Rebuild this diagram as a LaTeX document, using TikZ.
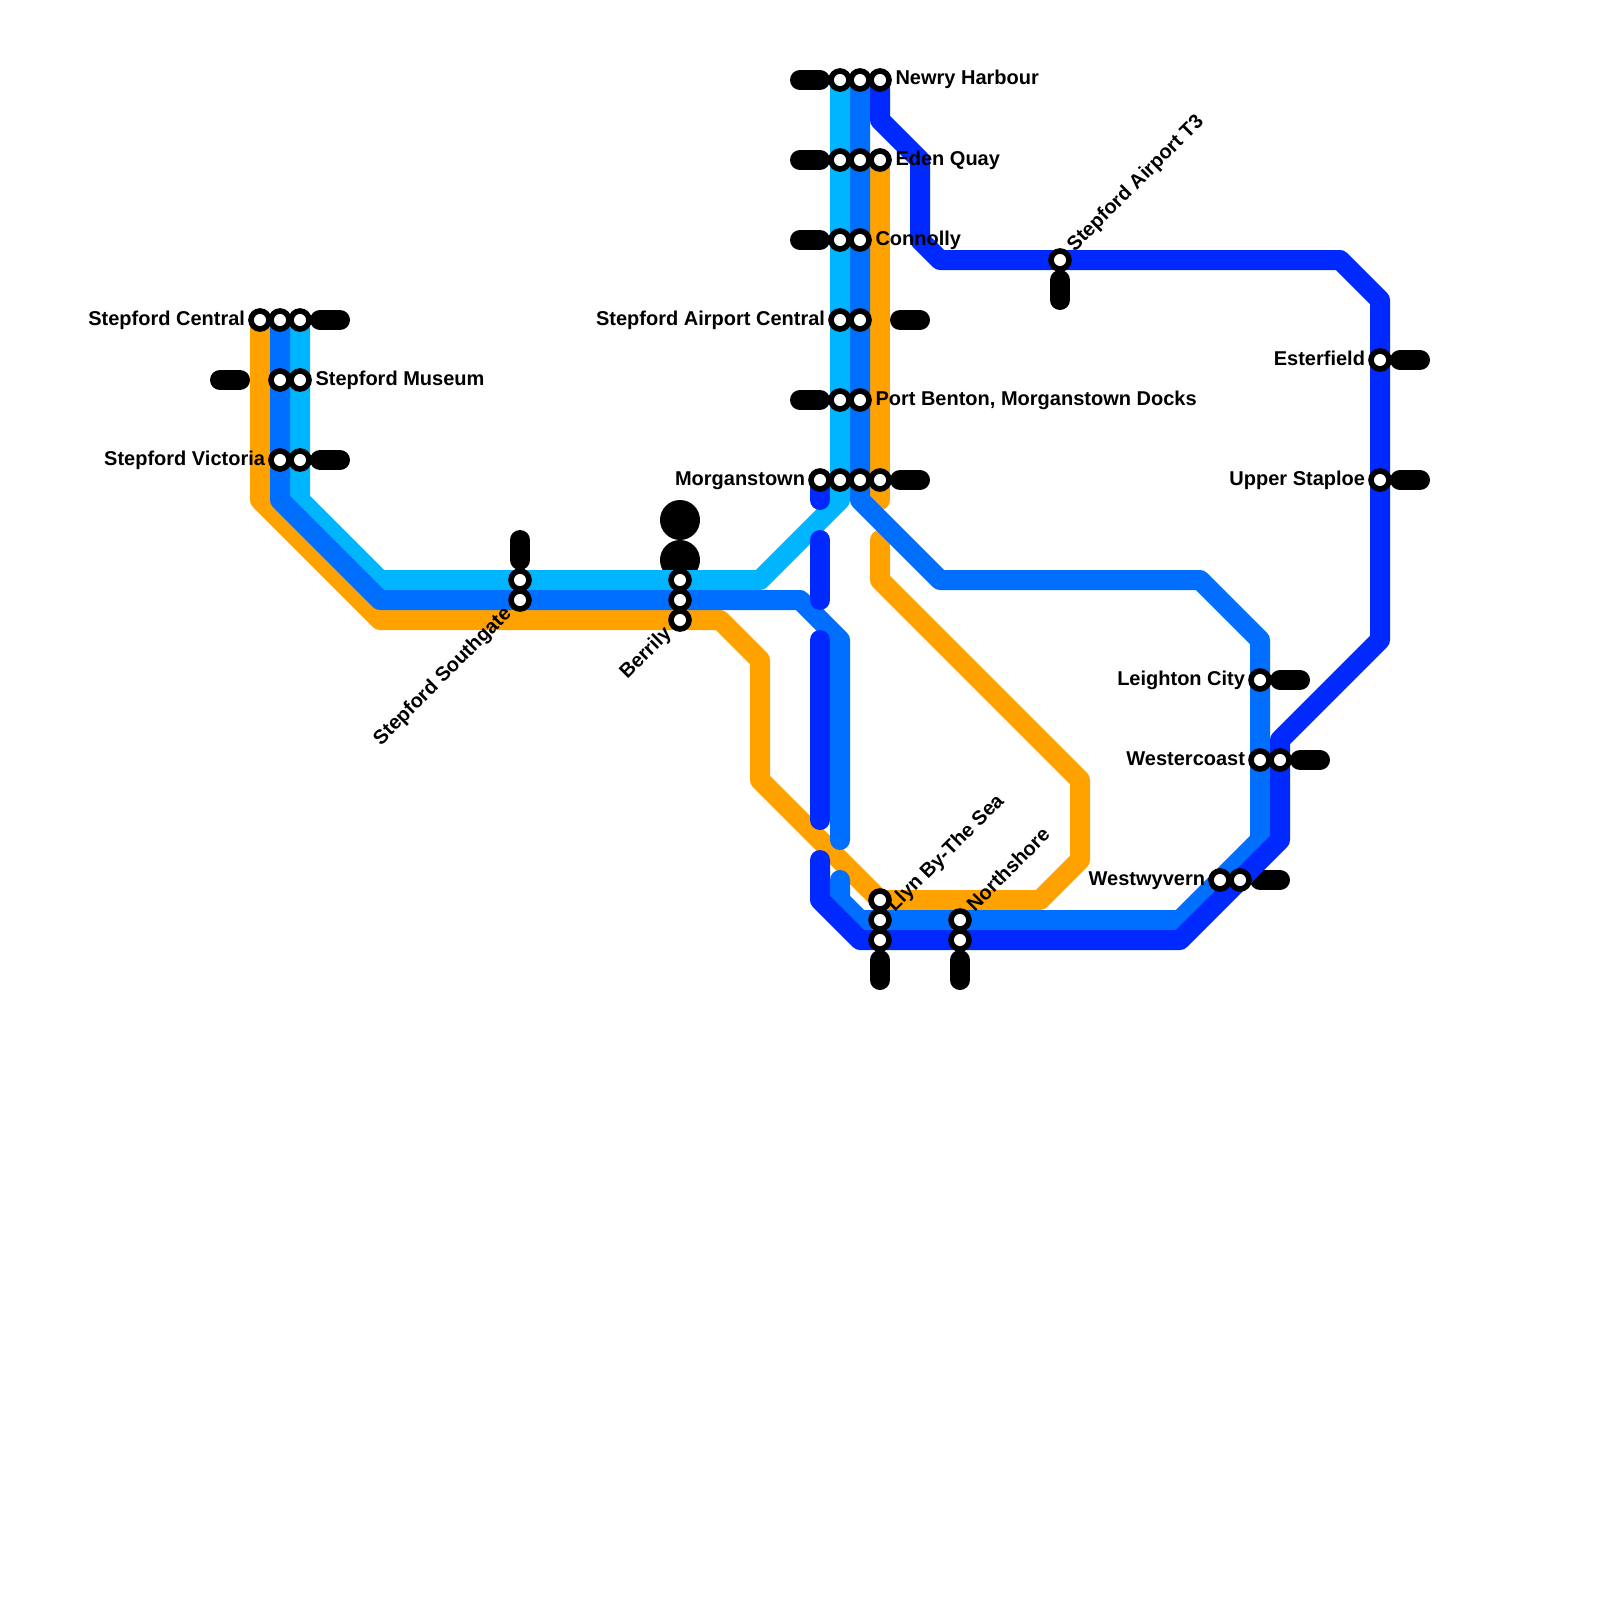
\documentclass[tikz,border=0pt]{standalone}
\usepackage{fontspec}
\setmainfont{Liberation Sans}
\pgfdeclarelayer{under}
\pgfsetlayers{under,main}
\definecolor{lineorange}{HTML}{FFA200}
\definecolor{linecyan}{HTML}{00B5FF}
\definecolor{lineblue}{HTML}{006FFF}
\definecolor{linedark}{HTML}{0029FF}
\tikzset{
  track/.style={line width=20pt,line cap=round,line join=round},
  stub/.style={track,draw=black},
  halt/.style={circle,draw=black,fill=white,line width=5.6pt,minimum size=18pt,inner sep=0pt,outer sep=0pt},
  stationlabel/.style={font=\fontsize{20}{24}\selectfont\bfseries,text=black,inner sep=0pt,outer sep=0pt},
  east label/.style={stationlabel,anchor=base west},
  west label/.style={stationlabel,anchor=base east},
  up label/.style={stationlabel,anchor=base west,rotate=45},
  down label/.style={stationlabel,anchor=base east,rotate=45}
}
\begin{document}
\begin{tikzpicture}[x=1pt,y=-1pt]
\useasboundingbox (0,0) rectangle (1600,1600);

% stations
\foreach \n/\x/\y in {
  nh1/840/80,nh2/860/80,nh3/880/80,
  eq1/840/160,eq2/860/160,eq3/880/160,
  co1/840/240,co2/860/240,
  ac1/840/320,ac2/860/320,
  pb1/840/400,pb2/860/400,
  mo0/820/480,mo1/840/480,mo2/860/480,mo3/880/480,
  sc1/260/320,sc2/280/320,sc3/300/320,
  sm1/280/380,sm2/300/380,
  sv1/280/460,sv2/300/460,
  ss1/520/580,ss2/520/600,
  be1/680/580,be2/680/600,be3/680/620,
  ll1/880/900,ll2/880/920,ll3/880/940,
  ns1/960/920,ns2/960/940,
  t3/1060/260,
  es/1380/360,us/1380/480,
  lc/1260/680,
  wc1/1260/760,wc2/1280/760,
  wy1/1220/880,wy2/1240/880}
  {\node[halt] (\n) at (\x,\y) {};}

% way-points
\foreach \n/\x/\y in {
  oa/260/500,ob/380/620,oc/720/620,od/760/660,oe/760/780,of/880/900,og/1040/900,oh/1080/860,oi/1080/780,oj/880/580,ok/880/540,ol/880/500,
  ca/300/500,cb/380/580,cc/760/580,cd/840/500,
  ba/280/500,bb/380/600,bc/800/600,bd/840/640,be/840/840,bf/840/880,bg/840/900,bh/860/920,bi/1180/920,bj/1260/840,bk/1260/640,bl/1200/580,bm/940/580,bn/860/500,
  da/880/120,db/920/160,dc/920/240,dd/940/260,de/1340/260,df/1380/300,dg/1380/640,dh/1280/740,di/1280/840,dj/1180/940,dk/860/940,dl/820/900,dm/820/860,dn/820/820,dp/820/640,dq/820/600,dr/820/540,ds/820/500,
  k1a/800/80,k1b/820/80,k2a/800/160,k2b/820/160,k3a/800/240,k3b/820/240,k4a/800/400,k4b/820/400,
  k5a/900/320,k5b/920/320,k6a/900/480,k6b/920/480,
  k7a/320/320,k7b/340/320,k8a/220/380,k8b/240/380,k9a/320/460,k9b/340/460,
  kAa/520/540,kAb/520/560,
  kBa/880/960,kBb/880/980,kCa/960/960,kCb/960/980,
  kDa/1060/280,kDb/1060/300,
  kEa/1400/360,kEb/1420/360,kFa/1400/480,kFb/1420/480,
  kGa/1280/680,kGb/1300/680,kHa/1300/760,kHb/1320/760,kIa/1260/880,kIb/1280/880,
  bc1/680/520,bc2/680/560}
  {\coordinate (\n) at (\x,\y);}

\begin{pgfonlayer}{under}
  \fill[white] (0,0) rectangle (1600,1600);
  % black marks
  \foreach \a/\b in {k1a/k1b,k2a/k2b,k3a/k3b,k4a/k4b,k5a/k5b,k6a/k6b,k7a/k7b,k8a/k8b,k9a/k9b,kAa/kAb,kBa/kBb,kCa/kCb,kDa/kDb,kEa/kEb,kFa/kFb,kGa/kGb,kHa/kHb,kIa/kIb}
    {\draw[stub] (\a) -- (\b);}
  \fill[black] (bc1) circle[radius=20pt];
  \fill[black] (bc2) circle[radius=20pt];
  % orange
  \draw[track,draw=lineorange] (sc1.center) -- (oa) -- (ob) -- (oc) -- (od) -- (oe) -- (of) -- (og) -- (oh) -- (oi) -- (oj) -- (ok);
  \draw[track,draw=lineorange] (eq3.center) -- (ol);
  % cyan
  \draw[track,draw=linecyan] (sc3.center) -- (ca) -- (cb) -- (cc) -- (cd) -- (nh1.center);
  % blue
  \draw[track,draw=lineblue] (sc2.center) -- (ba) -- (bb) -- (bc) -- (bd) -- (be);
  \draw[track,draw=lineblue] (bf) -- (bg) -- (bh) -- (bi) -- (bj) -- (bk) -- (bl) -- (bm) -- (bn) -- (nh2.center);
  % dark blue
  \draw[track,draw=linedark] (nh3.center) -- (da) -- (db) -- (dc) -- (dd) -- (de) -- (df) -- (dg) -- (dh) -- (di) -- (dj) -- (dk) -- (dl) -- (dm);
  \draw[track,draw=linedark] (dn) -- (dp);
  \draw[track,draw=linedark] (dq) -- (dr);
  \draw[track,draw=linedark] (ds) -- (mo0.center);
\end{pgfonlayer}

% labels
\node[east label] (lnh) at (895.5,85) {Newry Harbour};
\node[east label] (leq) at (895.5,165) {Eden Quay};
\node[east label] (lco) at (875.5,245) {Connolly};
\node[west label] (lac) at (825,325) {Stepford Airport Central};
\node[east label] (lpb) at (875.5,405) {Port Benton, Morganstown Docks};
\node[west label] (lmo) at (805,485) {Morganstown};
\node[west label] (lsc) at (245,325) {Stepford Central};
\node[east label] (lsm) at (315.5,385) {Stepford Museum};
\node[west label] (lsv) at (265,465) {Stepford Victoria};
\node[west label] (les) at (1365,365) {Esterfield};
\node[west label] (lus) at (1365,485) {Upper Staploe};
\node[west label] (llc) at (1245,685) {Leighton City};
\node[west label] (lwc) at (1245,765) {Westercoast};
\node[west label] (lwy) at (1205,885) {Westwyvern};
\node[up label] (lt3) at (1074.8,252.2) {Stepford Airport T3};
\node[up label] (lll) at (894.8,912.2) {Llyn By-The Sea};
\node[up label] (lns) at (974.8,912.2) {Northshore};
\node[down label] (lss) at (512.2,614.8) {Stepford Southgate};
\node[down label] (lbe) at (672.2,634.8) {Berrily};
\end{tikzpicture}
\end{document}
